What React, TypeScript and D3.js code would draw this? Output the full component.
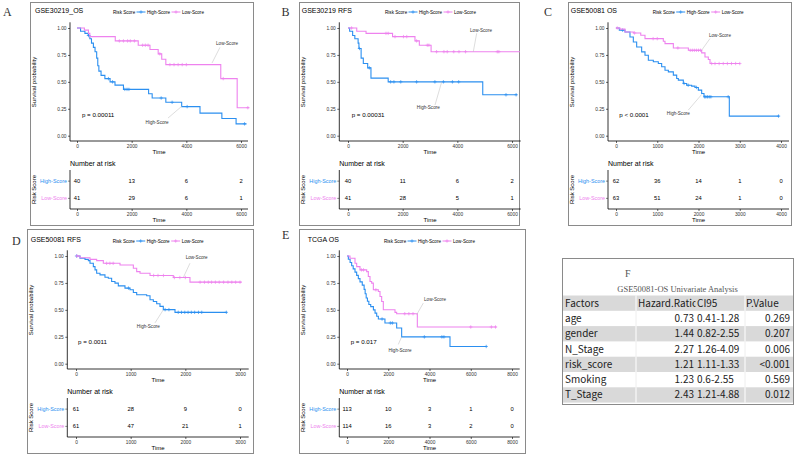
import React, { useEffect, useRef } from 'react'
import * as d3 from 'd3'

const BLUE = '#2b8ff0'
const PINK = '#ee82ee'
const SANS = 'Liberation Sans, Arial, sans-serif'
const SERIF = 'Liberation Serif, Times New Roman, serif'
const CJK = 'Noto Sans CJK SC, sans-serif'

const groups = ['High-Score', 'Low-Score']
const survTicks = [0, 0.25, 0.5, 0.75, 1]

// A: GSE30219_OS  [time, survival after step]
const aHigh = [[0, 1], [130, 0.97], [290, 0.95], [410, 0.93], [470, 0.9], [530, 0.86], [600, 0.82], [660, 0.78], [720, 0.72], [760, 0.65], [800, 0.6], [880, 0.56], [1020, 0.53], [1210, 0.5], [1390, 0.47], [1700, 0.43], [2620, 0.39], [2750, 0.35], [3250, 0.31], [3830, 0.27], [4500, 0.21], [5300, 0.16], [5820, 0.11]]
const aHighCensor = [420, 1150, 1300, 1750, 1830, 1900, 3080, 3480, 4030, 6130]
const aLow = [[0, 1], [270, 0.98], [420, 0.95], [470, 0.92], [1400, 0.88], [2240, 0.84], [2670, 0.8], [2970, 0.76], [3100, 0.71], [3250, 0.66], [5260, 0.53], [5860, 0.26]]
const aLowCensor = [1550, 1700, 1850, 1950, 2100, 2400, 2500, 2600, 3030, 3400, 3550, 3700, 3850, 4000, 5350, 6250]
const aEnd = [6200, 6300]
const aRiskHigh = [40, 13, 6, 2]
const aRiskLow = [41, 29, 6, 1]

// B: GSE30219 RFS
const bHigh = [[0, 1], [60, 0.97], [170, 0.93], [250, 0.9], [370, 0.86], [400, 0.81], [480, 0.72], [560, 0.67], [720, 0.63], [840, 0.535], [1470, 0.5], [4930, 0.38]]
const bHighCensor = [420, 780, 1560, 1680, 1930, 2510, 3180, 3490, 3820, 4050, 5780, 6150]
const bLow = [[0, 1], [320, 0.97], [660, 0.95], [1630, 0.92], [2450, 0.88], [2610, 0.84], [3040, 0.78]]
const bLowCensor = [130, 1390, 1470, 1720, 2030, 2150, 2510, 2900, 2960, 3240, 3510, 3630, 3870, 4060, 4300, 5460, 5520]
const bEnd = [6190, 6290]
const bRiskHigh = [40, 11, 6, 2]
const bRiskLow = [41, 28, 5, 1]

// C: GSE50081 OS
const cHigh = [[0, 1], [80, 0.98], [218, 0.963], [339, 0.917], [420, 0.87], [501, 0.824], [622, 0.778], [703, 0.747], [784, 0.701], [905, 0.686], [1026, 0.67], [1107, 0.64], [1188, 0.608], [1269, 0.593], [1390, 0.562], [1471, 0.531], [1511, 0.516], [1632, 0.485], [1713, 0.469], [1834, 0.46], [1915, 0.448], [1996, 0.423], [2077, 0.392], [2133, 0.361], [2747, 0.182]]
const cHighCensor = [160, 1650, 1750, 1950, 2150, 2180, 2220, 2260, 2300, 2720, 3940]
const cLow = [[0, 1], [97, 0.99], [218, 0.963], [420, 0.954], [600, 0.932], [703, 0.901], [1147, 0.877], [1188, 0.855], [1390, 0.815], [1754, 0.793], [2077, 0.769], [2157, 0.731], [2238, 0.707], [2279, 0.67]]
const cLowCensor = [30, 450, 900, 1000, 1500, 1800, 1850, 1900, 1950, 2000, 2050, 2320, 2400, 2500, 2600, 2700, 2800, 2900, 3000]
const cEnd = [3960, 3006]
const cRiskHigh = [62, 36, 14, 1, 0]
const cRiskLow = [63, 51, 24, 1, 0]

// D: GSE50081 RFS
const dHigh = [[0, 1], [73, 0.979], [165, 0.969], [226, 0.957], [256, 0.932], [317, 0.901], [348, 0.871], [378, 0.84], [439, 0.825], [530, 0.803], [591, 0.794], [652, 0.763], [713, 0.748], [774, 0.723], [896, 0.702], [988, 0.686], [1049, 0.661], [1110, 0.64], [1293, 0.631], [1354, 0.594], [1415, 0.578], [1476, 0.557], [1536, 0.532], [1597, 0.502], [1811, 0.477]]
const dHighCensor = [10, 960, 1630, 1700, 1870, 1930, 1990, 2050, 2110, 2170, 2240, 2300, 2750]
const dLow = [[0, 1], [73, 0.984], [256, 0.969], [378, 0.957], [500, 0.932], [805, 0.917], [1049, 0.886], [1110, 0.855], [1171, 0.84], [1354, 0.819], [1780, 0.8], [2085, 0.757]]
const dLowCensor = [20, 560, 620, 680, 1420, 1500, 1600, 1800, 1900, 2000, 2270, 2350, 2420, 2480, 2550, 2620, 2700, 2780, 2850, 2920, 3000]
const dEnd = [2756, 3030]
const dRiskHigh = [61, 28, 9, 0]
const dRiskLow = [61, 47, 21, 1]

// E: TCGA OS
const eHigh = [[0, 1], [65, 0.97], [150, 0.94], [226, 0.91], [300, 0.88], [388, 0.85], [469, 0.82], [549, 0.79], [630, 0.76], [740, 0.73], [830, 0.69], [880, 0.65], [930, 0.61], [990, 0.58], [1060, 0.55], [1150, 0.53], [1280, 0.5], [1360, 0.47], [1440, 0.44], [1520, 0.415], [1840, 0.378], [2408, 0.332], [2650, 0.249], [4994, 0.16]]
const eHighCensor = [1700, 2100, 2200, 3750, 4600, 4700, 6750]
const eLow = [[0, 1], [145, 0.979], [388, 0.932], [469, 0.901], [630, 0.871], [954, 0.855], [1034, 0.809], [1115, 0.763], [1196, 0.748], [1277, 0.686], [1519, 0.671], [1600, 0.624], [1681, 0.578], [1761, 0.501], [2327, 0.477], [2408, 0.464], [3410, 0.341]]
const eLowCensor = [700, 800, 1400, 2800, 3000, 3200, 6000, 7000, 7200]
const eEnd = [6770, 7256]
const eRiskHigh = [113, 10, 3, 1, 0]
const eRiskLow = [114, 16, 3, 2, 0]

// F: univariate table
const factors = ['age', 'gender', 'N_Stage', 'risk_score', 'Smoking', 'T_Stage']
const hazardRatio = ['0.73', '1.44', '2.27', '1.21', '1.23', '2.43']
const ci95 = ['0.41-1.28', '0.82-2.55', '1.26-4.09', '1.11-1.33', '0.6-2.55', '1.21-4.88']
const pValues = ['0.269', '0.207', '0.006', '<0.001', '0.569', '0.012']

const panels = [
  {
    letter: 'A', letterPos: [3, 16], title: 'GSE30219_OS', titlePos: [35, 13.3], box: [30, 2, 253, 225], dy: 0, legendX: 113,
    axisX: 70, x0: 77, x1: 241, tMax: 6000, tStep: 2000,
    high: aHigh, low: aLow, highCensor: aHighCensor, lowCensor: aLowCensor, end: aEnd, riskHigh: aRiskHigh, riskLow: aRiskLow,
    p: 'p = 0.00011', pAt: [180, 0.19],
    lowText: [5490, 0.86], lowLine: [4940, 0.675, 5230, 0.82], highText: [2930, 0.127], highLine: [3840, 0.275, 3330, 0.164],
  },
  {
    letter: 'B', letterPos: [281.5, 16], title: 'GSE30219 RFS', titlePos: [301.7, 13.3], box: [299, 2, 519, 225], dy: 0, legendX: 385,
    axisX: 339.3, x0: 348, x1: 512, tMax: 6000, tStep: 2000,
    high: bHigh, low: bLow, highCensor: bHighCensor, lowCensor: bLowCensor, end: bEnd, riskHigh: bRiskHigh, riskLow: bRiskLow,
    p: 'p = 0.00031', pAt: [135, 0.19],
    lowText: [4866, 0.975], lowLine: [4585, 0.78, 4708, 0.951], highText: [2938, 0.264], highLine: [3428, 0.5, 3183, 0.285],
  },
  {
    letter: 'C', letterPos: [544, 16], title: 'GSE50081 OS', titlePos: [570.7, 13.3], box: [568, 2, 791, 225], dy: 0, legendX: 652.7,
    axisX: 608, x0: 616, x1: 781, tMax: 4000, tStep: 1000,
    high: cHigh, low: cLow, highCensor: cHighCensor, lowCensor: cLowCensor, end: cEnd, riskHigh: cRiskHigh, riskLow: cRiskLow,
    p: 'p < 0.0001', pAt: [80, 0.19],
    lowText: [2521, 0.933], lowLine: [2077, 0.794, 2279, 0.902], highText: [1511, 0.207], highLine: [2077, 0.383, 1753, 0.238],
  },
  {
    letter: 'D', letterPos: [12, 245], title: 'GSE50081 RFS', titlePos: [30.7, 242.3], box: [27, 229, 253, 453], dy: 228, legendX: 112.7,
    axisX: 67.3, x0: 76, x1: 240, tMax: 3000, tStep: 1000,
    high: dHigh, low: dLow, highCensor: dHighCensor, lowCensor: dLowCensor, end: dEnd, riskHigh: dRiskHigh, riskLow: dRiskLow,
    p: 'p = 0.0011', pAt: [37, 0.2],
    lowText: [2207, 0.99], lowLine: [1963, 0.8, 2085, 0.933], highText: [1323, 0.347], highLine: [1597, 0.5, 1445, 0.379],
  },
  {
    letter: 'E', letterPos: [282, 239.3], title: 'TCGA OS', titlePos: [307.7, 242.3], box: [299, 229, 525, 453], dy: 228, legendX: 384,
    axisX: 339.3, x0: 347, x1: 512, tMax: 8000, tStep: 2000,
    high: eHigh, low: eLow, highCensor: eHighCensor, lowCensor: eLowCensor, end: eEnd, riskHigh: eRiskHigh, riskLow: eRiskLow,
    p: 'p = 0.017', pAt: [180, 0.2],
    lowText: [4267, 0.594], lowLine: [3378, 0.455, 3700, 0.563], highText: [2570, 0.126], highLine: [2650, 0.25, 2488, 0.179],
  },
]

function survAt(steps, t) {
  let s = steps[0][1]
  for (const [st, sv] of steps) if (st <= t) s = sv
  return s
}

function plus(g, cx, cy, color) {
  g.append('path')
    .attr('d', `M${cx - 1.7},${cy}H${cx + 1.7}M${cx},${cy - 1.7}V${cy + 1.7}`)
    .attr('stroke', color)
    .attr('stroke-width', 0.7)
}

function drawPanel(svg, p) {
  const g = svg.append('g')
  const top = p.dy
  const [bx0, by0, bx1, by1] = p.box
  g.append('rect')
    .attr('x', bx0 + 0.5).attr('y', by0 + 0.5)
    .attr('width', bx1 - bx0).attr('height', by1 - by0)
    .attr('fill', 'none').attr('stroke', '#8a8a8a').attr('stroke-width', 1)

  g.append('text').attr('x', p.letterPos[0]).attr('y', p.letterPos[1])
    .attr('font-family', SERIF).attr('font-size', 12).attr('fill', '#333').text(p.letter)
  g.append('text').attr('x', p.titlePos[0]).attr('y', p.titlePos[1])
    .attr('font-family', SANS).attr('font-size', 7).text(p.title)

  // legend
  const lg = g.append('g').attr('font-family', SANS).attr('font-size', 4.6)
  const ly = p.titlePos[1] - 1.3
  lg.append('text').attr('x', p.legendX).attr('y', ly).attr('dy', '0.35em').text('Risk Score')
  ;[[23.5, 34, BLUE, groups[0]], [58.5, 69, PINK, groups[1]]].forEach(([lx, tx, col, name]) => {
    lg.append('line').attr('x1', p.legendX + lx).attr('x2', p.legendX + lx + 9)
      .attr('y1', ly).attr('y2', ly).attr('stroke', col).attr('stroke-width', 1)
    plus(lg, p.legendX + lx + 4.5, ly, col)
    lg.append('text').attr('x', p.legendX + tx).attr('y', ly).attr('dy', '0.35em').text(name)
  })

  const x = d3.scaleLinear().domain([0, p.tMax]).range([p.x0, p.x1])
  const y = d3.scaleLinear().domain([0, 1]).range([top + 135.7, top + 28])
  const axisEnd = p.x1 + (p.x0 - p.axisX)
  const xAxisY = top + 141
  const tVals = d3.range(0, p.tMax + 1, p.tStep)

  // plot axes
  g.append('line').attr('x1', p.axisX).attr('x2', p.axisX).attr('y1', top + 22.3).attr('y2', xAxisY)
    .attr('stroke', '#000').attr('stroke-width', 0.8)
  g.append('line').attr('x1', p.axisX).attr('x2', axisEnd).attr('y1', xAxisY).attr('y2', xAxisY)
    .attr('stroke', '#000').attr('stroke-width', 0.8)

  const yAx = g.append('g').attr('transform', `translate(${p.axisX},0)`)
    .call(d3.axisLeft(y).tickValues(survTicks).tickFormat(d3.format('.2f')).tickSize(2).tickPadding(1.5))
  yAx.select('.domain').remove()
  yAx.selectAll('text').attr('font-size', 4.8).attr('font-family', SANS).attr('fill', '#333')
  yAx.selectAll('line').attr('stroke-width', 0.6)

  const xAx = g.append('g').attr('transform', `translate(0,${xAxisY})`)
    .call(d3.axisBottom(x).tickValues(tVals).tickFormat(d3.format('d')).tickSize(2).tickPadding(1.5))
  xAx.select('.domain').remove()
  xAx.selectAll('text').attr('font-size', 4.8).attr('font-family', SANS).attr('fill', '#333')
  xAx.selectAll('line').attr('stroke-width', 0.6)

  g.append('text').attr('transform', `translate(${p.axisX - 36},${top + 82}) rotate(-90)`)
    .attr('text-anchor', 'middle').attr('dy', '0.35em')
    .attr('font-family', SANS).attr('font-size', 6).text('Survival probability')
  g.append('text').attr('x', (p.axisX + axisEnd) / 2).attr('y', top + 154)
    .attr('text-anchor', 'middle').attr('font-family', SANS).attr('font-size', 6).text('Time')

  // curves
  const line = d3.line().x(d => x(d[0])).y(d => y(d[1])).curve(d3.curveStepAfter)
  const curves = [[p.high, p.end[0], p.highCensor, BLUE], [p.low, p.end[1], p.lowCensor, PINK]]
  curves.forEach(([steps, end, censor, col]) => {
    const pts = [...steps, [end, steps[steps.length - 1][1]]]
    g.append('path').attr('d', line(pts)).attr('fill', 'none').attr('stroke', col).attr('stroke-width', 1.1)
    censor.forEach(t => plus(g, x(t), y(survAt(steps, t)), col))
  })

  // curve labels
  const ag = g.append('g').attr('font-family', SANS).attr('font-size', 4.6).attr('fill', '#333')
  ;[[p.lowText, p.lowLine, groups[1]], [p.highText, p.highLine, groups[0]]].forEach(([tp, ln, name]) => {
    ag.append('line').attr('x1', x(ln[0])).attr('y1', y(ln[1])).attr('x2', x(ln[2])).attr('y2', y(ln[3]))
      .attr('stroke', '#bbb').attr('stroke-width', 0.5)
    ag.append('text').attr('x', x(tp[0])).attr('y', y(tp[1])).attr('dy', '0.35em')
      .attr('text-anchor', 'middle').text(name)
  })

  g.append('text').attr('x', x(p.pAt[0])).attr('y', y(p.pAt[1])).attr('dy', '0.35em')
    .attr('font-family', SANS).attr('font-size', 6.2).text(p.p)

  // number at risk table
  g.append('text').attr('x', p.axisX).attr('y', top + 165.5)
    .attr('font-family', SANS).attr('font-size', 7).text('Number at risk')
  const tableBottom = top + 209
  const rowY = d3.scaleBand().domain(groups).range([top + 172.5, top + 207])
  g.append('line').attr('x1', p.axisX).attr('x2', p.axisX).attr('y1', top + 170).attr('y2', tableBottom)
    .attr('stroke', '#000').attr('stroke-width', 0.8)
  g.append('line').attr('x1', p.axisX).attr('x2', axisEnd).attr('y1', tableBottom).attr('y2', tableBottom)
    .attr('stroke', '#000').attr('stroke-width', 0.8)
  const rows = [[groups[0], p.riskHigh, BLUE], [groups[1], p.riskLow, PINK]]
  rows.forEach(([name, vals, col]) => {
    const ry = rowY(name) + rowY.bandwidth() / 2
    g.append('line').attr('x1', p.axisX - 2).attr('x2', p.axisX).attr('y1', ry).attr('y2', ry)
      .attr('stroke', '#333').attr('stroke-width', 0.6)
    g.append('text').attr('x', p.axisX - 3).attr('y', ry).attr('dy', '0.35em').attr('text-anchor', 'end')
      .attr('font-family', SANS).attr('font-size', 5.4).attr('fill', col).text(name)
    vals.forEach((v, i) => {
      g.append('text').attr('x', x(tVals[i])).attr('y', ry).attr('dy', '0.35em')
        .attr('text-anchor', 'middle').attr('font-family', SANS).attr('font-size', 5.8).text(v)
    })
  })
  const tAx = g.append('g').attr('transform', `translate(0,${tableBottom})`)
    .call(d3.axisBottom(x).tickValues(tVals).tickFormat(d3.format('d')).tickSize(2).tickPadding(1.5))
  tAx.select('.domain').remove()
  tAx.selectAll('text').attr('font-size', 4.8).attr('font-family', SANS).attr('fill', '#333')
  tAx.selectAll('line').attr('stroke-width', 0.6)
  g.append('text').attr('x', (p.axisX + axisEnd) / 2).attr('y', top + 222)
    .attr('text-anchor', 'middle').attr('font-family', SANS).attr('font-size', 6).text('Time')
  g.append('text').attr('transform', `translate(${p.axisX - 36.5},${top + 189.5}) rotate(-90)`)
    .attr('text-anchor', 'middle').attr('dy', '0.35em')
    .attr('font-family', SANS).attr('font-size', 6).text('Risk Score')
}

function drawTable(svg) {
  const g = svg.append('g')
  const left = 562
  const right = 793
  const rowH = 15.3
  const headTop = 295.5
  const cols = [left, 636, 695, 745, right]
  g.append('rect').attr('x', left + 0.5).attr('y', 258.5).attr('width', right - left).attr('height', 404 - 258)
    .attr('fill', '#fff').attr('stroke', '#8a8a8a')
  g.append('text').attr('x', 625).attr('y', 277).attr('font-family', SERIF).attr('font-size', 10).attr('fill', '#555').text('F')
  g.append('text').attr('x', (left + right) / 2).attr('y', 292).attr('text-anchor', 'middle')
    .attr('font-family', SERIF).attr('font-size', 8.5).attr('fill', '#555').text('GSE50081-OS Univariate Analysis')

  const rowY = d3.scaleBand().domain(d3.range(factors.length + 1)).range([headTop, headTop + rowH * 7])
  d3.range(7).forEach(i => {
    if (i % 2 === 0) {
      g.append('rect').attr('x', left + 1).attr('y', rowY(i)).attr('width', right - left - 1).attr('height', rowH)
        .attr('fill', '#d9d9d9')
    }
    ;[cols[1], cols[3]].forEach(cx => {
      g.append('line').attr('x1', cx).attr('x2', cx).attr('y1', rowY(i)).attr('y2', rowY(i) + rowH)
        .attr('stroke', i % 2 === 0 ? '#fff' : '#eee').attr('stroke-width', 1)
    })
  })
  const tg = g.append('g').attr('font-family', CJK).attr('font-size', 10).attr('fill', '#222')
  const cy = i => rowY(i) + rowH / 2
  tg.append('text').attr('x', left + 3).attr('y', cy(0)).attr('dy', '0.35em').text('Factors')
  g.append('clipPath').attr('id', 'hrclip').append('rect').attr('x', 636).attr('y', headTop).attr('width', 59.5).attr('height', rowH)
  tg.append('text').attr('x', 638).attr('y', cy(0)).attr('dy', '0.35em').attr('clip-path', 'url(#hrclip)').text('Hazard.Ratio')
  tg.append('text').attr('x', 697).attr('y', cy(0)).attr('dy', '0.35em').text('CI95')
  tg.append('text').attr('x', 746).attr('y', cy(0)).attr('dy', '0.35em').text('P.Value')
  factors.forEach((f, i) => {
    const yy = cy(i + 1)
    tg.append('text').attr('x', left + 3).attr('y', yy).attr('dy', '0.35em').text(f)
    tg.append('text').attr('x', 694).attr('y', yy).attr('dy', '0.35em').attr('text-anchor', 'end').text(hazardRatio[i])
    tg.append('text').attr('x', 697).attr('y', yy).attr('dy', '0.35em').text(ci95[i])
    tg.append('text').attr('x', 790).attr('y', yy).attr('dy', '0.35em').attr('text-anchor', 'end').text(pValues[i])
  })
}

export default function App() {
  const ref = useRef(null)
  useEffect(() => {
    const svg = d3.select(ref.current)
    svg.selectAll('*').remove()
    panels.forEach(p => drawPanel(svg, p))
    drawTable(svg)
  }, [])
  return (
    <svg ref={ref} width={797} height={456}
      style={{ position: 'absolute', left: 0, top: 0, background: '#fff' }} />
  )
}
